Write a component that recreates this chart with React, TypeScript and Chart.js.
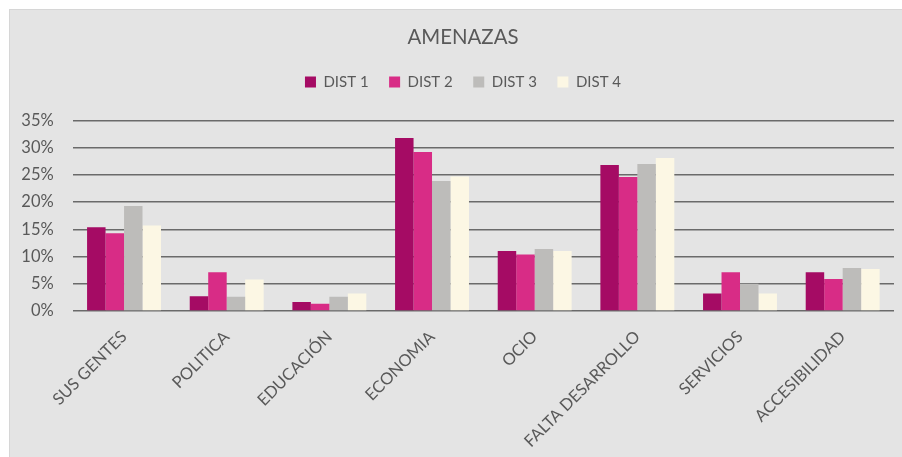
import React, { useEffect, useRef } from "react";
import { Chart, registerables } from "chart.js";

Chart.register(...registerables);

const categories = [
  "SUS GENTES",
  "POLITICA",
  "EDUCACIÓN",
  "ECONOMIA",
  "OCIO",
  "FALTA DESARROLLO",
  "SERVICIOS",
  "ACCESIBILIDAD",
];
const dist1 = [15.4, 2.7, 1.65, 31.8, 11.0, 26.8, 3.2, 7.1];
const dist2 = [14.3, 7.1, 1.35, 29.2, 10.4, 24.6, 7.1, 5.9];
const dist3 = [19.3, 2.6, 2.6, 23.9, 11.4, 27.0, 5.0, 7.9];
const dist4 = [15.7, 5.8, 3.2, 24.7, 11.0, 28.1, 3.2, 7.7];
const seriesNames = ["DIST 1", "DIST 2", "DIST 3", "DIST 4"];
const seriesColors = ["#A50B64", "#D82C86", "#BDBCBA", "#FCF7E4"];
const yMax = 35;
const yStep = 5;

const FONT = "Lato, 'Open Sans', sans-serif";

const backgroundPlugin = {
  id: "panelBackground",
  afterLayout(chart: any) {
    // centre title and legend on the panel rather than the chart box
    const shift = 11;
    const boxes = [chart.titleBlock, chart.legend];
    boxes.forEach((b: any) => {
      if (b) {
        b.left += shift;
        b.right += shift;
      }
    });
  },
  beforeDraw(chart: any) {
    const { ctx, width, height } = chart;
    ctx.save();
    ctx.fillStyle = "#ffffff";
    ctx.fillRect(0, 0, width, height);
    ctx.fillStyle = "#d6d6d6";
    ctx.fillRect(9, 9, width - 9, height - 9);
    ctx.fillStyle = "#e4e4e4";
    ctx.fillRect(10, 10, width - 10, height - 10);
    ctx.restore();
  },
};

export default function App() {
  const ref = useRef<HTMLCanvasElement | null>(null);

  useEffect(() => {
    if (!ref.current) return;
    const values = [dist1, dist2, dist3, dist4];
    const chart = new Chart(ref.current, {
      type: "bar",
      data: {
        labels: categories,
        datasets: seriesNames.map((name, i) => ({
          label: name,
          data: values[i],
          backgroundColor: seriesColors[i],
          borderWidth: 0,
          categoryPercentage: 0.72,
          barPercentage: 1.0,
        })),
      },
      plugins: [backgroundPlugin],
      options: {
        animation: false,
        responsive: false,
        maintainAspectRatio: false,
        layout: { padding: { top: 10, left: 10, right: 8, bottom: 0 } },
        plugins: {
          title: {
            display: true,
            text: "AMENAZAS",
            color: "#595959",
            font: { family: FONT, size: 20.4, weight: "normal" },
            padding: { top: 15.6, bottom: 3.9 },
          },
          subtitle: {
            display: true,
            text: " ",
            weight: 500,
            position: "top",
            font: { size: 1 },
            padding: { top: 0, bottom: 19.8 },
          } as any,
          legend: {
            display: true,
            position: "top",
            labels: {
              color: "#595959",
              font: { family: FONT, size: 15 },
              boxWidth: 11,
              boxHeight: 11,
              padding: 20.5,
            },
          },
          tooltip: { enabled: false },
        },
        scales: {
          x: {
            grid: { display: false, drawTicks: false },
            border: { display: false },
            ticks: {
              color: "#595959",
              font: { family: FONT, size: 16.5 },
              maxRotation: 45,
              minRotation: 45,
              padding: 16,
              autoSkip: false,
            },
            afterFit: (scale: any) => {
              scale.height = 146;
            },
          },
          y: {
            min: 0,
            max: yMax,
            ticks: {
              stepSize: yStep,
              color: "#595959",
              font: { family: FONT, size: 16.5 },
              padding: 19,
              callback: (v: any) => v + "%",
            },
            grid: { color: "#6a6a6a", lineWidth: 1.5, drawTicks: false },
            border: { display: false },
            afterFit: (scale: any) => {
              scale.width = 62.7;
            },
          },
        },
      },
    });
    return () => chart.destroy();
  }, []);

  return (
    <>
      <style>{`html,body{margin:0;padding:0;overflow:hidden}`}</style>
      <canvas
        ref={ref}
        width={902}
        height={457}
        style={{ display: "block", position: "absolute", left: 0, top: 0 }}
      />
    </>
  );
}
